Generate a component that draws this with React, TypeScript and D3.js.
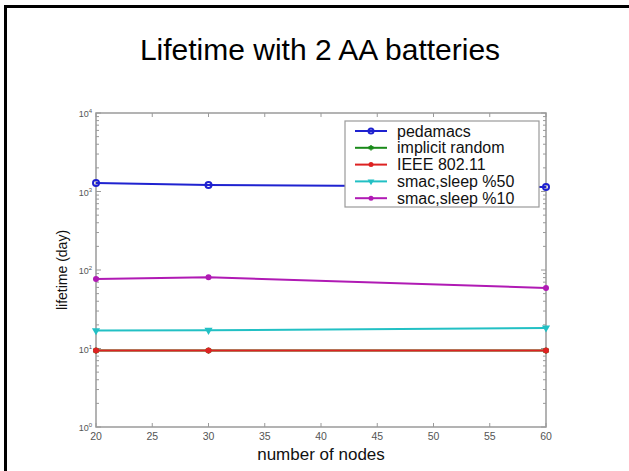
import React, { useEffect, useRef } from "react";
import * as d3 from "d3";

type Series = {
  name: string;
  color: string;
  marker: string;
  values: number[];
};

const nodes = [20, 30, 60];
const xTicks = [20, 25, 30, 35, 40, 45, 50, 55, 60];
const yTicks = [1, 10, 100, 1000, 10000];

const pedamacs = [1280, 1210, 1140];
const implicitRandom = [9.4, 9.4, 9.4];
const ieee80211 = [9.4, 9.4, 9.4];
const smac50 = [16.9, 17.1, 18.3];
const smac10 = [77, 81, 59];

const series: Series[] = [
  { name: "pedamacs", color: "#1f22d0", marker: "circle", values: pedamacs },
  { name: "implicit random", color: "#1a8a1a", marker: "star", values: implicitRandom },
  { name: "IEEE 802.11", color: "#dd2222", marker: "dot", values: ieee80211 },
  { name: "smac,sleep %50", color: "#22c0c4", marker: "tri", values: smac50 },
  { name: "smac,sleep %10", color: "#b01ab4", marker: "dot", values: smac10 },
];

const W = 629;
const H = 471;
const plot = { left: 96, top: 113, right: 546, bottom: 427 };

const App: React.FC = () => {
  const svgRef = useRef<SVGSVGElement>(null);

  useEffect(() => {
    const svg = d3.select(svgRef.current);
    svg.selectAll("*").remove();

    const x = d3.scaleLinear().domain([20, 60]).range([plot.left, plot.right]);
    const y = d3.scaleLog().domain([1, 10000]).range([plot.bottom, plot.top]);

    svg.append("rect").attr("width", W).attr("height", H).attr("fill", "#fff");

    // slide frame
    svg.append("rect")
      .attr("x", 5.5).attr("y", 6.5)
      .attr("width", W).attr("height", H)
      .attr("fill", "none").attr("stroke", "#000").attr("stroke-width", 3);

    svg.append("text")
      .attr("x", 320).attr("y", 60)
      .attr("text-anchor", "middle")
      .attr("font-family", "Liberation Sans, Arial, sans-serif")
      .attr("font-size", 30)
      .attr("fill", "#000")
      .text("Lifetime with 2 AA batteries");

    const axisColor = "#9a9a9a";
    const labelColor = "#555";
    const g = svg.append("g");

    // box
    g.append("rect")
      .attr("x", plot.left).attr("y", plot.top)
      .attr("width", plot.right - plot.left).attr("height", plot.bottom - plot.top)
      .attr("fill", "none").attr("stroke", axisColor).attr("stroke-width", 1.5);

    // x ticks (bottom and top)
    xTicks.forEach((t) => {
      const px = x(t);
      g.append("line").attr("x1", px).attr("x2", px)
        .attr("y1", plot.bottom).attr("y2", plot.bottom - 4)
        .attr("stroke", axisColor);
      g.append("line").attr("x1", px).attr("x2", px)
        .attr("y1", plot.top).attr("y2", plot.top + 4)
        .attr("stroke", axisColor);
      g.append("text")
        .attr("x", px).attr("y", plot.bottom + 13)
        .attr("text-anchor", "middle")
        .attr("font-family", "Liberation Sans, Arial, sans-serif")
        .attr("font-size", 10.5)
        .attr("fill", labelColor)
        .text(t);
    });

    // y ticks, major and minor, both sides
    yTicks.forEach((t, i) => {
      const py = y(t);
      [plot.left, plot.right].forEach((sx, k) => {
        const d = k === 0 ? 5 : -5;
        g.append("line").attr("x1", sx).attr("x2", sx + d)
          .attr("y1", py).attr("y2", py).attr("stroke", axisColor);
      });
      const lab = g.append("text")
        .attr("x", plot.left - 4).attr("y", py + 4)
        .attr("text-anchor", "end")
        .attr("font-family", "Liberation Sans, Arial, sans-serif")
        .attr("font-size", 9)
        .attr("fill", labelColor);
      lab.append("tspan").text("10");
      lab.append("tspan").attr("dy", -4).attr("font-size", 6).text(String(Math.log10(t)));
      if (i < yTicks.length - 1) {
        for (let m = 2; m <= 9; m++) {
          const my = y(t * m);
          [plot.left, plot.right].forEach((sx, k) => {
            const d = k === 0 ? 3 : -3;
            g.append("line").attr("x1", sx).attr("x2", sx + d)
              .attr("y1", my).attr("y2", my).attr("stroke", axisColor);
          });
        }
      }
    });

    // axis labels
    svg.append("text")
      .attr("x", 321).attr("y", 460)
      .attr("text-anchor", "middle")
      .attr("font-family", "Liberation Sans, Arial, sans-serif")
      .attr("font-size", 17)
      .attr("fill", "#111")
      .text("number of nodes");
    svg.append("text")
      .attr("transform", `translate(67,${(plot.top + plot.bottom) / 2}) rotate(-90)`)
      .attr("text-anchor", "middle")
      .attr("font-family", "Liberation Sans, Arial, sans-serif")
      .attr("font-size", 14)
      .attr("fill", "#111")
      .text("lifetime (day)");

    const drawMarker = (sel: d3.Selection<SVGGElement, unknown, null, undefined>, s: Series, cx: number, cy: number, r: number) => {
      if (s.marker === "circle") {
        sel.append("circle").attr("cx", cx).attr("cy", cy).attr("r", r)
          .attr("fill", "none").attr("stroke", s.color).attr("stroke-width", 2);
      } else if (s.marker === "tri") {
        const sym = d3.symbol().type(d3.symbolTriangle).size(r * r * 3.2);
        sel.append("path").attr("d", sym()!)
          .attr("transform", `translate(${cx},${cy}) rotate(180)`)
          .attr("fill", s.color);
      } else if (s.marker === "star") {
        const sym = d3.symbol().type(d3.symbolAsterisk).size(r * r * 3.2);
        sel.append("path").attr("d", sym()!)
          .attr("transform", `translate(${cx},${cy})`)
          .attr("fill", "none").attr("stroke", s.color).attr("stroke-width", 1.5);
      } else {
        sel.append("circle").attr("cx", cx).attr("cy", cy).attr("r", r).attr("fill", s.color);
      }
    };

    const line = d3.line<number>()
      .x((_, i) => x(nodes[i]))
      .y((d) => y(d));

    series.forEach((s) => {
      const sg = g.append("g");
      sg.append("path")
        .datum(s.values)
        .attr("d", line)
        .attr("fill", "none")
        .attr("stroke", s.color)
        .attr("stroke-width", 2);
      s.values.forEach((v, i) => drawMarker(sg, s, x(nodes[i]), y(v), 3));
    });

    // legend
    const lg = svg.append("g");
    const lx = 345;
    const ly = 121;
    const rowH = 16.8;
    lg.append("rect")
      .attr("x", lx).attr("y", ly)
      .attr("width", 194).attr("height", 86)
      .attr("fill", "#fff").attr("stroke", axisColor).attr("stroke-width", 1.2);
    series.forEach((s, i) => {
      const cy = ly + 10 + i * rowH;
      const rg = lg.append("g");
      rg.append("line")
        .attr("x1", lx + 10).attr("x2", lx + 42)
        .attr("y1", cy).attr("y2", cy)
        .attr("stroke", s.color).attr("stroke-width", 2);
      drawMarker(rg, s, lx + 26, cy, 2.5);
      rg.append("text")
        .attr("x", lx + 52).attr("y", cy + 5.5)
        .attr("font-family", "Liberation Sans, Arial, sans-serif")
        .attr("font-size", 16)
        .attr("fill", "#111")
        .text(s.name);
    });
  }, []);

  return (
    <svg
      ref={svgRef}
      width={W}
      height={H}
      style={{ position: "absolute", left: 0, top: 0 }}
    ></svg>
  );
};

export default App;
